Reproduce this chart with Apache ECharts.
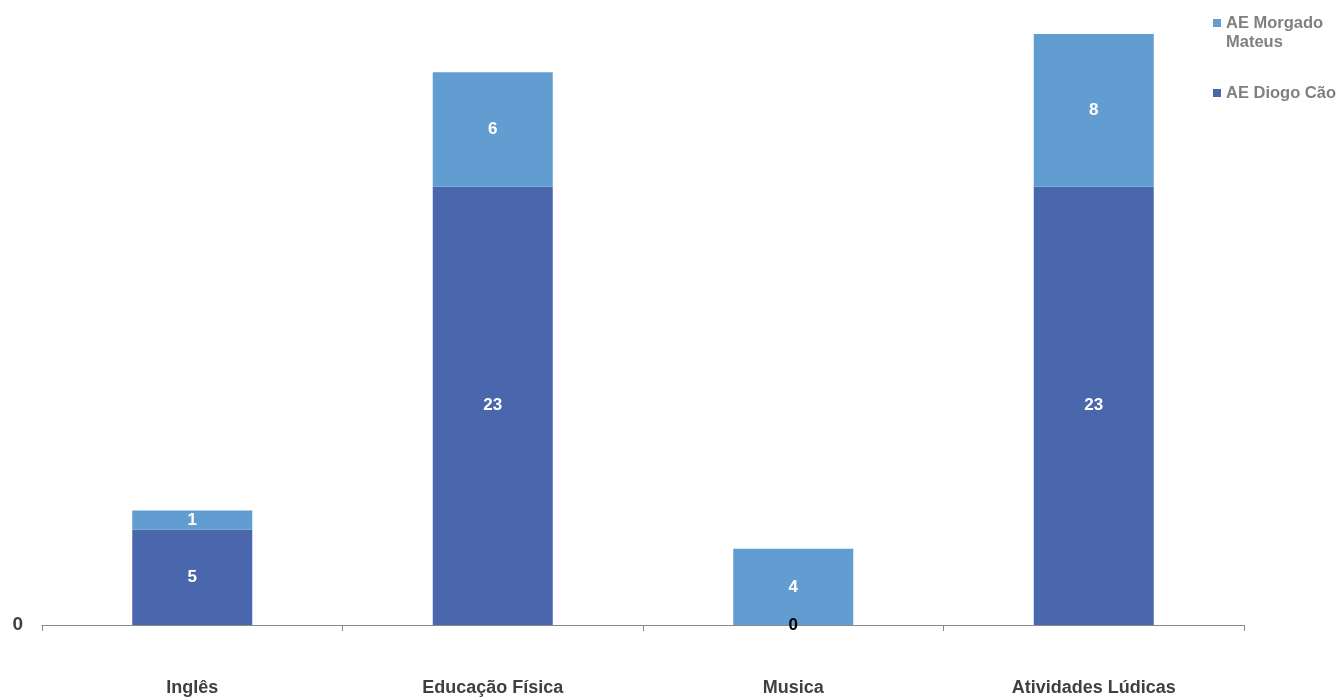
<!DOCTYPE html>
<html>
<head>
<meta charset="utf-8">
<script src="https://cdn.jsdelivr.net/npm/echarts@6/dist/echarts.min.js"></script>
<style>
html,body{margin:0;padding:0;background:#fff;}
#chart{width:1341px;height:699px;}
</style>
</head>
<body>
<div id="chart"></div>
<script>
var categories = ['Inglês', 'Educação Física', 'Musica', 'Atividades Lúdicas'];
var diogoCao = [5, 23, 0, 23];
var morgadoMateus = [1, 6, 4, 8];
var seriesNames = ['AE Diogo Cão', 'AE Morgado Mateus'];

var FONT = '"Liberation Sans", Arial, sans-serif';
var chart = echarts.init(document.getElementById('chart'));

var diogoData = diogoCao.map(function (v) {
  if (v === 0) return { value: v, label: { color: '#000000' } };
  return v;
});

var legendText = {
  color: '#808080',
  fontWeight: 'bold',
  fontSize: 16.5,
  fontFamily: FONT,
  lineHeight: 19
};

var valueLabel = {
  show: true,
  position: 'inside',
  color: '#ffffff',
  fontWeight: 'bold',
  fontSize: 17,
  fontFamily: FONT
};

chart.setOption({
  animation: false,
  textStyle: { fontFamily: FONT },
  grid: { left: 42, right: 97, top: 34, bottom: 74 },
  legend: [
    {
      orient: 'vertical',
      left: 1213,
      top: -5.5,
      itemWidth: 8,
      itemHeight: 8,
      icon: 'rect',
      padding: 0,
      data: [seriesNames[1]],
      formatter: function () { return ' \nAE Morgado\nMateus'; },
      textStyle: legendText,
      itemStyle: { borderWidth: 0 }
    },
    {
      orient: 'vertical',
      left: 1213,
      top: 83.5,
      itemWidth: 8,
      itemHeight: 8,
      icon: 'rect',
      padding: 0,
      data: [seriesNames[0]],
      textStyle: legendText,
      itemStyle: { borderWidth: 0 }
    }
  ],
  xAxis: {
    type: 'category',
    data: categories,
    axisLine: { lineStyle: { color: '#898989', width: 1 } },
    axisTick: { show: true, length: 6, lineStyle: { color: '#898989' } },
    axisLabel: {
      margin: 54,
      color: '#404040',
      fontWeight: 'bold',
      fontSize: 18,
      fontFamily: FONT
    }
  },
  yAxis: {
    type: 'value',
    min: 0,
    max: 31,
    interval: 31,
    splitLine: { show: false },
    axisLine: { show: false },
    axisTick: { show: false },
    axisLabel: {
      showMaxLabel: false,
      margin: 19,
      color: '#404040',
      fontWeight: 'bold',
      fontSize: 19,
      fontFamily: FONT
    }
  },
  series: [
    {
      name: seriesNames[0],
      type: 'bar',
      stack: 'total',
      barWidth: 120,
      data: diogoData,
      itemStyle: { color: '#4A66AC' },
      label: valueLabel
    },
    {
      name: seriesNames[1],
      type: 'bar',
      stack: 'total',
      barWidth: 120,
      data: morgadoMateus,
      itemStyle: { color: '#629DD1' },
      label: valueLabel
    }
  ]
});
</script>
</body>
</html>
